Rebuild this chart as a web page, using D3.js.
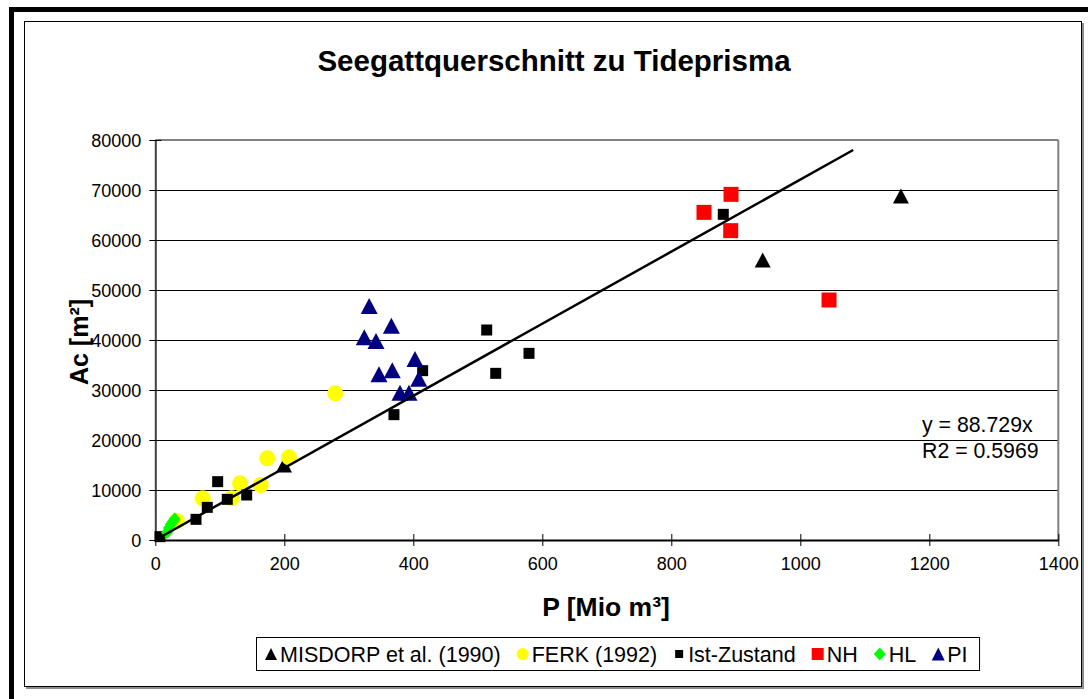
<!DOCTYPE html>
<html>
<head>
<meta charset="utf-8">
<script src="https://cdn.jsdelivr.net/npm/d3@7"></script>
<style>
  body { margin: 0; background: #fff; }
  svg { display: block; }
  text { font-family: Arial, "Liberation Sans", sans-serif; fill: #000; }
</style>
</head>
<body>
<svg id="chart" width="1088" height="699"></svg>
<script>
// Axis ticks
const xTicks = [0, 200, 400, 600, 800, 1000, 1200, 1400];
const yTicks = [0, 10000, 20000, 30000, 40000, 50000, 60000, 70000, 80000];

// Series: [P (Mio m³), Ac (m²)]
const misdorp = [[199.5, 15000], [941.7, 56000], [1156, 68800]];
const ferk = [[33.2, 3800], [73.5, 8330], [118.4, 8330], [131.3, 11330], [163.4, 11000],
              [173.6, 16330], [207.3, 16530], [279, 29340]];
const istZustand = [[7.3, 670], [63.1, 4130], [80.6, 6530], [96.7, 11670], [111.6, 8130],
                    [141.7, 9000], [370, 25070], [414.5, 33870], [513.8, 42000], [527.8, 33330],
                    [579.4, 37330], [880.6, 65130]];
const nh = [[850.7, 65530], [892.6, 69130], [892.1, 61870], [1044.5, 48000]];
const hl = [[18, 1500], [21, 2400], [24, 3100], [27, 3700], [30, 4200]];
const pi = [[331.6, 46800], [366, 42870], [324, 40530], [342.2, 39800], [402.6, 36200],
            [346.8, 33130], [367.4, 33930], [408.4, 32270], [379.4, 29470], [393.3, 29470]];

// Linear trend through the origin, drawn across the fitted range
const trendLine = [[0, 0], [1082, 78000]];
const trendText = ["y = 88.729x", "R2 = 0.5969"];

const legendLabels = ["MISDORP et al. (1990)", "FERK (1992)", "Ist-Zustand", "NH", "HL", "PI"];

const svg = d3.select("#chart");

// Outer frame and chart area border
svg.append("rect").attr("x", 11.5).attr("y", 9.5).attr("width", 1100).attr("height", 700)
  .attr("fill", "none").attr("stroke", "#000").attr("stroke-width", 5);
svg.append("rect").attr("x", 26).attr("y", 23).attr("width", 1058).attr("height", 666)
  .attr("fill", "#8c8c8c");
svg.append("rect").attr("x", 24.5).attr("y", 21.5).attr("width", 1057).attr("height", 665)
  .attr("fill", "#fff").attr("stroke", "#000").attr("stroke-width", 1);

const x = d3.scaleLinear().domain([0, 1400]).range([155.3, 1058.3]);
const y = d3.scaleLinear().domain([0, 80000]).range([540, 140]);

// Gridlines
svg.append("g").selectAll("line").data(yTicks.filter(d => d > 0 && d < 80000)).join("line")
  .attr("x1", x(0)).attr("x2", x(1400)).attr("y1", d => y(d)).attr("y2", d => y(d))
  .attr("stroke", "#000").attr("stroke-width", 1).attr("shape-rendering", "crispEdges");

// Plot area top and right borders
svg.append("line").attr("x1", x(0)).attr("x2", x(1400)).attr("y1", y(80000)).attr("y2", y(80000))
  .attr("stroke", "#808080").attr("stroke-width", 2);
svg.append("line").attr("x1", x(1400)).attr("x2", x(1400)).attr("y1", y(80000)).attr("y2", y(0))
  .attr("stroke", "#808080").attr("stroke-width", 2);

// Axes
const yAxis = d3.axisLeft(y).tickValues(yTicks).tickFormat(d3.format("d")).tickSizeInner(6).tickSizeOuter(0);
const yg = svg.append("g").attr("transform", `translate(${x(0)},0)`).call(yAxis);
yg.select(".domain").attr("stroke", "#404040").attr("stroke-width", 2);
yg.selectAll(".tick line").attr("x1", -6).attr("x2", 6).attr("stroke", "#000");
yg.selectAll(".tick text").attr("x", -14).attr("dy", "0.34em")
  .style("font-size", "18px").style("font-family", "Arial, 'Liberation Sans', sans-serif").attr("fill", "#000");

const xAxis = d3.axisBottom(x).tickValues(xTicks).tickFormat(d3.format("d")).tickSizeInner(6).tickSizeOuter(0);
const xg = svg.append("g").attr("transform", `translate(0,${y(0)})`).call(xAxis);
xg.select(".domain").attr("stroke", "#000").attr("stroke-width", 2);
xg.selectAll(".tick line").attr("y1", -6).attr("y2", 6).attr("stroke", "#000");
xg.selectAll(".tick text").attr("y", 17).attr("dy", "0.71em")
  .style("font-size", "18px").style("font-family", "Arial, 'Liberation Sans', sans-serif").attr("fill", "#000");

// Marker shapes
const tri = (w, h) => `M0,${-h / 2}L${w / 2},${h / 2}L${-w / 2},${h / 2}Z`;
const sq = s => `M${-s / 2},${-s / 2}h${s}v${s}h${-s}Z`;
const dia = (w, h) => `M0,${-h / 2}L${w / 2},0L0,${h / 2}L${-w / 2},0Z`;
const circ = d => { const p = d3.path(); p.arc(0, 0, d / 2, 0, 2 * Math.PI); return p.toString(); };

const seriesDefs = [
  { data: misdorp, path: tri(16, 15), fill: "#000" },
  { data: ferk, path: circ(16), fill: "#ffff00" },
  { data: istZustand, path: sq(11), fill: "#000" },
  { data: nh, path: sq(15), fill: "#ff0000" },
  { data: hl, path: dia(12, 13), fill: "#00ff00" },
  { data: pi, path: tri(17, 16), fill: "#000080" }
];
const legendShapes = [tri(12, 12), circ(12), sq(8), sq(12), dia(12, 13), tri(13, 13)];

seriesDefs.forEach(s => {
  svg.append("g").selectAll("path").data(s.data).join("path")
    .attr("d", s.path)
    .attr("transform", d => `translate(${x(d[0])},${y(d[1])})`)
    .attr("fill", s.fill);
});

// Trendline
svg.append("path").datum(trendLine)
  .attr("d", d3.line().x(d => x(d[0])).y(d => y(d[1])))
  .attr("fill", "none").attr("stroke", "#000").attr("stroke-width", 2.5);

// Equation label
svg.append("g").selectAll("text").data(trendText).join("text")
  .attr("x", 922).attr("y", (d, i) => 432 + i * 25.5)
  .style("font-size", "21.3px").text(d => d);

// Title and axis titles
svg.append("text").attr("x", 554).attr("y", 71).attr("text-anchor", "middle")
  .style("font-size", "29.5px").style("font-weight", "bold").text("Seegattquerschnitt zu Tideprisma");
svg.append("text").attr("x", 606).attr("y", 616).attr("text-anchor", "middle")
  .style("font-size", "26.5px").style("font-weight", "bold").text("P [Mio m³]");
svg.append("text").attr("transform", "translate(88,342) rotate(-90)").attr("text-anchor", "middle")
  .style("font-size", "25px").style("font-weight", "bold").text("Ac [m²]");

// Legend
const lg = svg.append("g");
const legendBox = lg.append("rect").attr("x", 256.5).attr("y", 637.5).attr("height", 33)
  .attr("fill", "#fff").attr("stroke", "#000").attr("stroke-width", 1);
let cx = 271;
legendLabels.forEach((lbl, i) => {
  lg.append("path").attr("d", legendShapes[i]).attr("transform", `translate(${cx},654)`)
    .attr("fill", seriesDefs[i].fill);
  const t = lg.append("text").attr("x", cx + 9).attr("y", 661.5)
    .style("font-size", "21.5px").text(lbl);
  cx = cx + 9 + t.node().getComputedTextLength() + 22;
});
legendBox.attr("width", cx - 22 + 12 - 256.5);
</script>
</body>
</html>
